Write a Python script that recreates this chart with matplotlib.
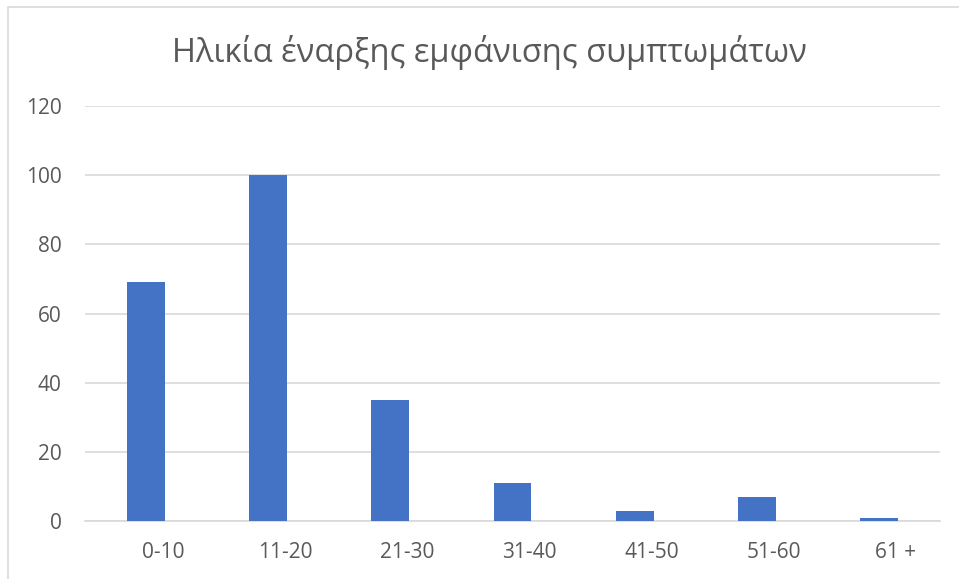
import matplotlib.pyplot as plt
from matplotlib.patches import Rectangle

categories = ["0-10", "11-20", "21-30", "31-40", "41-50", "51-60", "61 +"]
values = [69, 100, 35, 11, 3, 7, 1]
y_ticks = [0, 20, 40, 60, 80, 100, 120]

TITLE = "Ηλικία έναρξης εμφάνισης συμπτωμάτων"
BAR_COLOR = "#4472c4"
GRID_COLOR = "#d9d9d9"
TEXT_COLOR = "#595959"

plt.rcParams["font.family"] = ["Open Sans", "DejaVu Sans"]

W, H = 959, 579
fig = plt.figure(figsize=(W / 100, H / 100), dpi=100)

# outer chart frame (only top and left edges fall inside the picture)
fig.patches.append(Rectangle((8 / W, -0.1), 1.2, 1 - 7 / H + 0.1,
                             transform=fig.transFigure, fill=False,
                             edgecolor=GRID_COLOR, linewidth=1.2))

ax = fig.add_axes([85 / W, 1 - 521 / H, (940 - 85) / W, (521 - 106) / H])
x = list(range(len(categories)))
ax.bar(x, values, width=0.31, color=BAR_COLOR, zorder=3)

ax.set_xlim(-0.5, len(categories) - 0.5)
ax.set_ylim(0, 120)
ax.set_yticks(y_ticks)
# category labels sit a bit right of the bars in the original
ax.set_xticks([i + 0.14 for i in x])
ax.set_xticklabels(categories)
ax.grid(axis="y", color=GRID_COLOR, linewidth=1.2, zorder=0)
for side in ["top", "right", "left"]:
    ax.spines[side].set_visible(False)
ax.spines["bottom"].set_color(GRID_COLOR)
ax.spines["bottom"].set_linewidth(1.2)
ax.tick_params(axis="both", length=0, labelsize=15, colors=TEXT_COLOR)
ax.tick_params(axis="y", pad=17)
ax.tick_params(axis="x", pad=15)

fig.text(489 / W, 1 - 52 / H, TITLE, ha="center", va="center",
         fontsize=23.5, color=TEXT_COLOR)

fig.savefig("out.png", dpi=100)
